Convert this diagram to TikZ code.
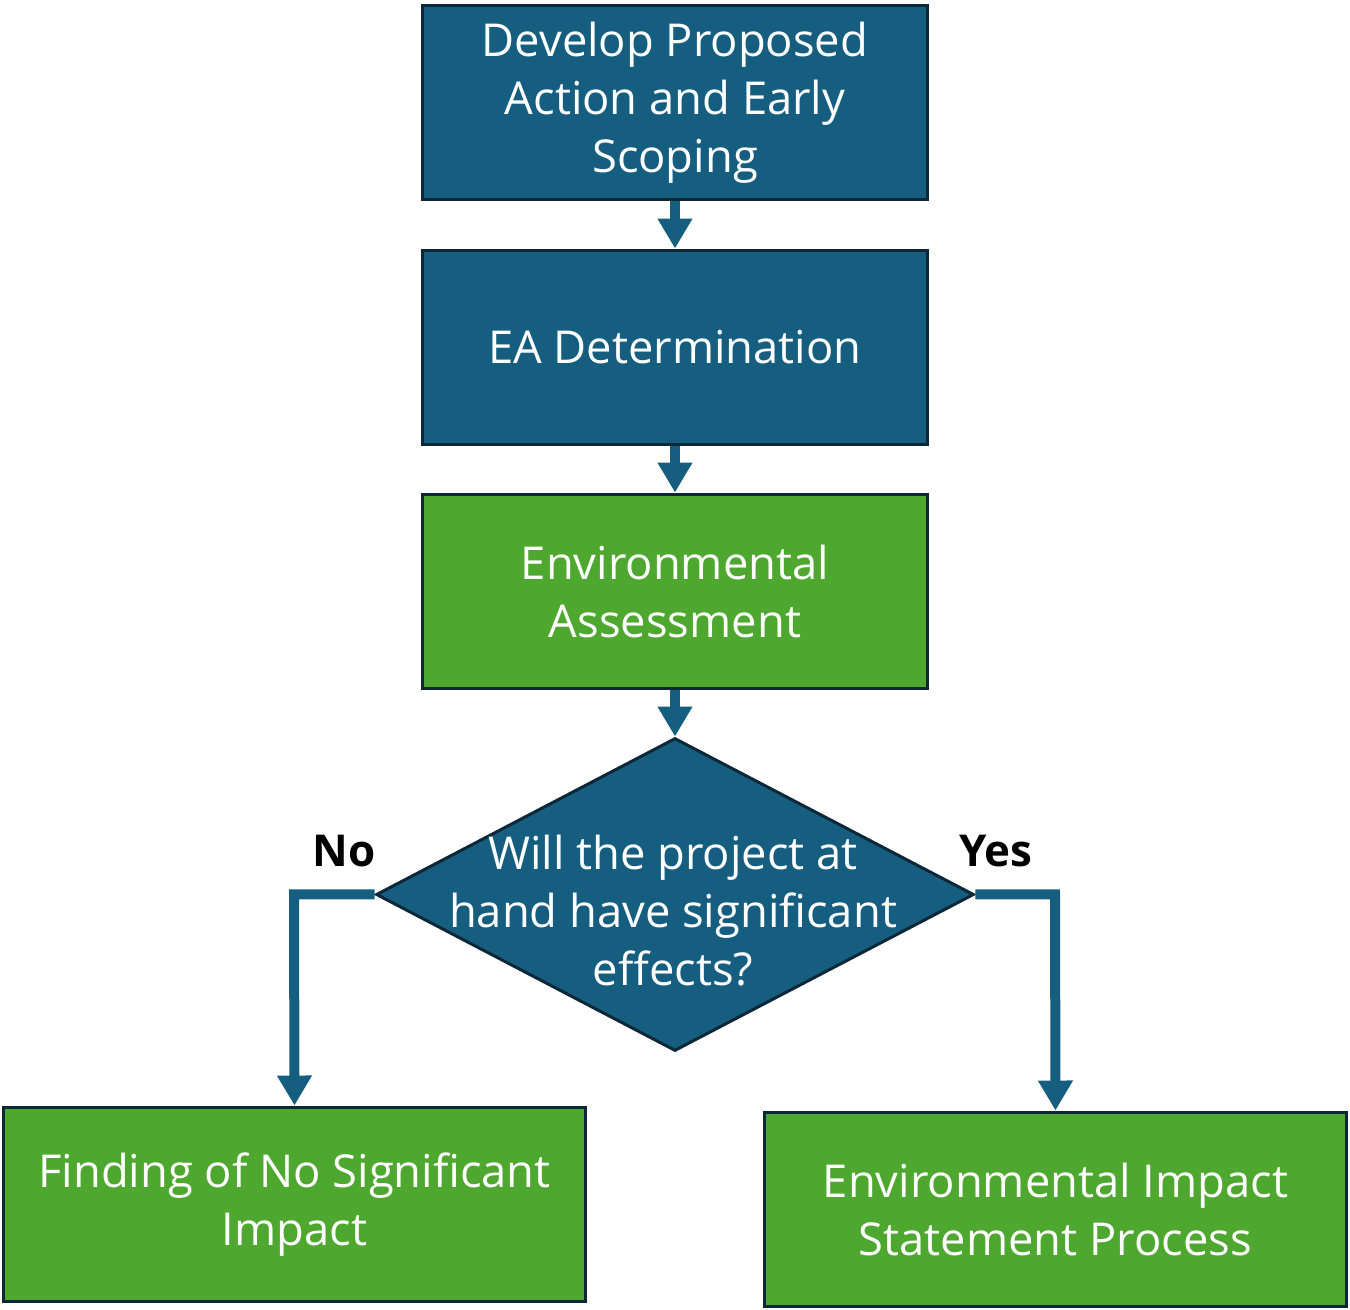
\documentclass[tikz,border=0pt]{standalone}
\usepackage{fontspec}
\setmainfont{Open Sans}
\usetikzlibrary{shapes.geometric,arrows.meta}
\definecolor{cblue}{RGB}{22,94,128}
\definecolor{cgreen}{RGB}{78,167,46}
\definecolor{cedge}{RGB}{12,40,56}
\tikzset{
  x=0.02cm, y=-0.02cm,
  boxbase/.style={draw=cedge, line width=0.06cm, minimum width=10.1cm, minimum height=3.85cm, inner sep=0pt, text=white, align=center, font=\fontsize{25.8}{33}\selectfont},
  bluebox/.style={boxbase, fill=cblue},
  greenbox/.style={boxbase, fill=cgreen, minimum width=11.64cm},
  lower/.style={execute at begin node={\vspace*{0.14cm}}},
  conn/.style={draw=cblue, line width=0.2cm, line join=miter, -{Triangle[width=0.66cm, length=0.6cm]}},
  lbl/.style={font=\fontsize{25}{30}\selectfont\bfseries, text=black}
}
\begin{document}
\begin{tikzpicture}
\useasboundingbox (0,0) rectangle (1350,1310);
\node[bluebox, lower, minimum height=3.9cm] (b1) at (675,102.5) {Develop Proposed\\Action and Early\\Scoping};
\node[bluebox, minimum height=3.9cm] (b2) at (675,347.5) {EA Determination};
\node[greenbox, minimum width=10.1cm, minimum height=3.9cm] (b3) at (675,591.5) {Environmental\\Assessment};
\node[diamond, draw=cedge, fill=cblue, line width=0.06cm, minimum width=11.96cm, minimum height=6.26cm, inner sep=0pt, aspect=1.91] (d) at (675,894.5) {};
\node[text=white, align=center, font=\fontsize{25.8}{33}\selectfont, inner sep=0pt] (dt) at (673,910.5) {Will the project at\\hand have significant\\effects?};
\node[greenbox, lower, minimum height=3.9cm] (b4) at (294.5,1204.5) {Finding of No Significant\\Impact};
\node[greenbox, minimum height=3.9cm] (b5) at (1055.5,1209.5) {Environmental Impact\\Statement Process};
\coordinate (nc) at (294,894.5);
\coordinate (yc) at (1055,894.5);
\draw[conn] (b1.south) -- (b2.north);
\draw[conn] (b2.south) -- (b3.north);
\draw[conn] (b3.south) -- (d.north);
\draw[conn] (d.west) -- (nc) -- (b4.north);
\draw[conn] (d.east) -- (yc) -- (b5.north);
\node[lbl] (no) at (344,851) {No};
\node[lbl] (yes) at (996,851) {Yes};
\end{tikzpicture}
\end{document}
